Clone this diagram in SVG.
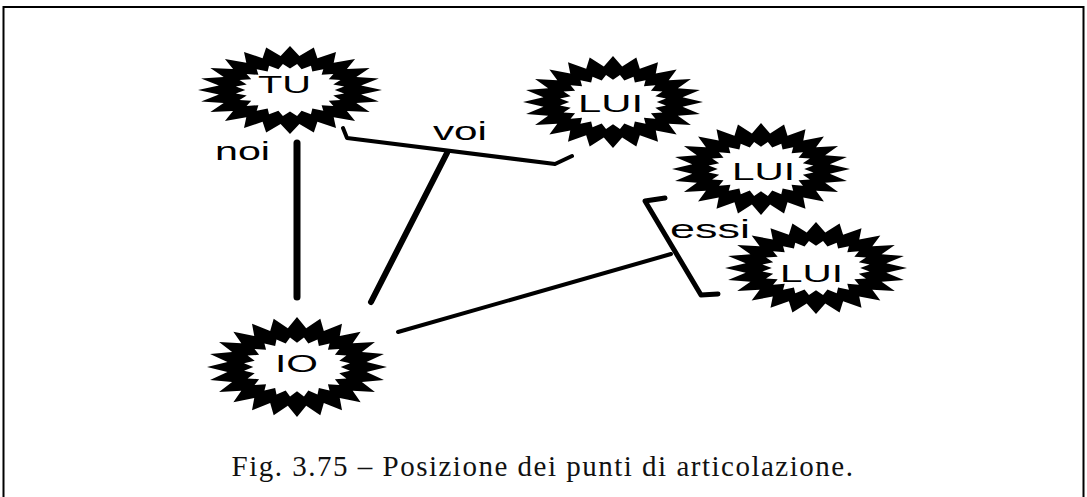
<svg xmlns="http://www.w3.org/2000/svg" xmlns:xlink="http://www.w3.org/1999/xlink" width="1087" height="497" viewBox="0 0 1087 497">
<style>
.lbl{font-family:"Liberation Sans",Arial,sans-serif;font-size:24px;fill:#000}
.edge{font-family:"Liberation Sans",Arial,sans-serif;font-size:25px;fill:#000}
.cap{font-family:"Liberation Serif","Times New Roman",serif;font-size:29px;letter-spacing:1.5px;fill:#111}
.c{fill:none;stroke:#000;stroke-linecap:round;stroke-linejoin:round}
</style>
<defs>
<g id="burst">
<polygon fill="#000" points="100,0 77.3,10.2 96.6,25.9 72.1,29.8 86.6,50 61.9,47.5 70.7,70.7 47.5,61.9 50,86.6 29.8,72.1 25.9,96.6 10.2,77.3 0,100 -10.2,77.3 -25.9,96.6 -29.8,72.1 -50,86.6 -47.5,61.9 -70.7,70.7 -61.9,47.5 -86.6,50 -72.1,29.8 -96.6,25.9 -77.3,10.2 -100,0 -77.3,-10.2 -96.6,-25.9 -72.1,-29.8 -86.6,-50 -61.9,-47.5 -70.7,-70.7 -47.5,-61.9 -50,-86.6 -29.8,-72.1 -25.9,-96.6 -10.2,-77.3 0,-100 10.2,-77.3 25.9,-96.6 29.8,-72.1 50,-86.6 47.5,-61.9 70.7,-70.7 61.9,-47.5 86.6,-50 72.1,-29.8 96.6,-25.9 77.3,-10.2"/>
<polygon fill="#fff" transform="scale(0.9)" points="54,0 65.4,8.6 52.2,14 61,25.3 46.8,27 52.4,40.2 38.2,38.2 40.2,52.4 27,46.8 25.3,61 14,52.2 8.6,65.4 0,54 -8.6,65.4 -14,52.2 -25.3,61 -27,46.8 -40.2,52.4 -38.2,38.2 -52.4,40.2 -46.8,27 -61,25.3 -52.2,14 -65.4,8.6 -54,0 -65.4,-8.6 -52.2,-14 -61,-25.3 -46.8,-27 -52.4,-40.2 -38.2,-38.2 -40.2,-52.4 -27,-46.8 -25.3,-61 -14,-52.2 -8.6,-65.4 0,-54 8.6,-65.4 14,-52.2 25.3,-61 27,-46.8 40.2,-52.4 38.2,-38.2 52.4,-40.2 46.8,-27 61,-25.3 52.2,-14 65.4,-8.6"/>
</g>
</defs>
<rect x="0" y="0" width="1087" height="497" fill="#fff"/>
<rect x="3.5" y="7" width="1080" height="500" fill="none" stroke="#000" stroke-width="2"/>
<g id="connectors">
<line class="c" x1="297" y1="143" x2="297" y2="297" stroke-width="7"/>
<polyline class="c" points="343,128 347,138 555,164 572,156" stroke-width="4"/>
<line class="c" x1="447" y1="153" x2="371" y2="302" stroke-width="6"/>
<polyline class="c" points="665,198 645,201 701,295 718,294" stroke-width="5"/>
<line class="c" x1="398" y1="332" x2="671" y2="254" stroke-width="4"/>
</g>
<g id="node-tu">
<use xlink:href="#burst" transform="translate(290,90) scale(0.92,0.44)"/>
<text class="lbl" x="258" y="93" textLength="53" lengthAdjust="spacingAndGlyphs">TU</text>
</g>
<g id="node-lui1">
<use xlink:href="#burst" transform="translate(613,102) scale(0.9,0.46)"/>
<text class="lbl" x="578" y="112" textLength="65" lengthAdjust="spacingAndGlyphs">LUI</text>
</g>
<g id="node-lui2">
<use xlink:href="#burst" transform="translate(761,169) scale(0.89,0.46)"/>
<text class="lbl" x="732" y="180" textLength="63" lengthAdjust="spacingAndGlyphs">LUI</text>
</g>
<g id="node-lui3">
<use xlink:href="#burst" transform="translate(816,268) scale(0.91,0.46)"/>
<text class="lbl" x="780" y="282" textLength="63" lengthAdjust="spacingAndGlyphs">LUI</text>
</g>
<g id="node-io">
<use xlink:href="#burst" transform="translate(297,367) scale(0.9,0.5)"/>
<text class="lbl" x="275" y="372" textLength="43" lengthAdjust="spacingAndGlyphs">IO</text>
</g>
<g id="edge-labels">
<text class="edge" x="215" y="160" textLength="55" lengthAdjust="spacingAndGlyphs">noi</text>
<text class="edge" x="433" y="140" textLength="54" lengthAdjust="spacingAndGlyphs">voi</text>
<text class="edge" x="670" y="238" textLength="80" lengthAdjust="spacingAndGlyphs">essi</text>
</g>
<text class="cap" x="543" y="476" text-anchor="middle">Fig. 3.75 – Posizione dei punti di articolazione.</text>
</svg>
